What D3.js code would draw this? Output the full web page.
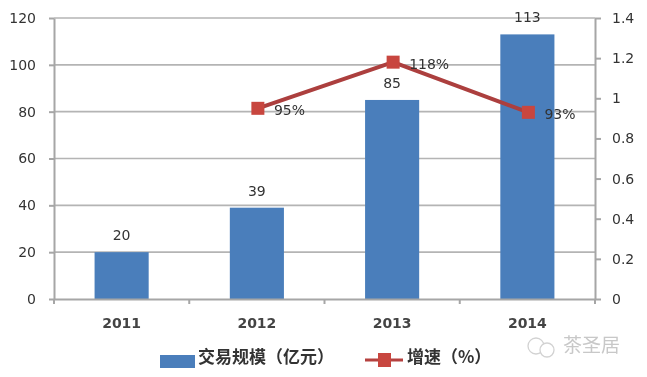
<!DOCTYPE html>
<html>
  <head>
    <meta charset="utf-8" />
    <title>交易规模与增速</title>
    <style>
      html, body { margin: 0; padding: 0; background: #fff; }
      svg { display: block; filter: blur(0.4px); }
      text { font-family: "DejaVu Sans", sans-serif; fill: #333; }
      .cn { font-family: "Noto Sans CJK SC", sans-serif; }
      .axis path, .axis line { stroke: #a6a6a6; stroke-width: 2; }
    </style>
  </head>
  <body>
    <div id="chart"></div>
    <script src="https://d3js.org/d3.v7.min.js"></script>
    <script>
      const years = ['2011', '2012', '2013', '2014'];
      const volume = [20, 39, 85, 113];
      const growthYears = ['2012', '2013', '2014'];
      const growth = [0.95, 1.18, 0.93];
      const growthLabels = ['95%', '118%', '93%'];
      const leftTicks = [0, 20, 40, 60, 80, 100, 120];
      const rightTicks = [0, 0.2, 0.4, 0.6, 0.8, 1, 1.2, 1.4];

      const width = 647;
      const height = 377;
      const plot = { left: 54, right: 595, top: 18, bottom: 299 };

      const svg = d3.select('#chart').append('svg')
        .attr('width', width)
        .attr('height', height);

      const xOuter = d3.scaleBand().domain(years).range([plot.left, plot.right]);
      const barWidth = xOuter.bandwidth() * 0.4;
      const y = d3.scaleLinear().domain([0, 120]).range([plot.bottom, plot.top]);
      const yRight = d3.scaleLinear().domain([0, 1.4]).range([plot.bottom, plot.top]);
      const cx = (d) => xOuter(d) + xOuter.bandwidth() / 2;

      // gridlines
      svg.append('g')
        .selectAll('line')
        .data(leftTicks.slice(1))
        .enter()
        .append('line')
        .attr('x1', plot.left)
        .attr('x2', plot.right)
        .attr('y1', (d) => y(d))
        .attr('y2', (d) => y(d))
        .attr('stroke', '#b4b4b4')
        .attr('stroke-width', 1.6);

      // bars
      svg.append('g')
        .selectAll('rect')
        .data(years)
        .enter()
        .append('rect')
        .attr('x', (d) => cx(d) - barWidth / 2)
        .attr('y', (d, i) => y(volume[i]))
        .attr('width', barWidth)
        .attr('height', (d, i) => y(0) - y(volume[i]))
        .attr('fill', '#4a7ebb');

      // axes
      const leftAxis = svg.append('g')
        .attr('class', 'axis')
        .attr('transform', `translate(${plot.left},0)`)
        .call(d3.axisLeft(y).tickValues(leftTicks).tickSize(5).tickPadding(13).tickSizeOuter(0));
      leftAxis.selectAll('text').style('font-size', '14px');

      const rightAxis = svg.append('g')
        .attr('class', 'axis')
        .attr('transform', `translate(${plot.right},0)`)
        .call(d3.axisRight(yRight).tickValues(rightTicks).tickFormat(d3.format('~g')).tickSize(6).tickPadding(11).tickSizeOuter(0));
      rightAxis.selectAll('text').style('font-size', '14px');

      const bottomAxis = svg.append('g')
        .attr('class', 'axis')
        .attr('transform', `translate(0,${plot.bottom})`)
        .call(d3.axisBottom(xOuter).tickSize(0).tickPadding(19));
      bottomAxis.selectAll('text').style('font-size', '14px').style('font-weight', 'bold').style('fill', '#444');

      // tick marks between categories on the bottom axis
      svg.append('g')
        .selectAll('line')
        .data(years.concat(['end']))
        .enter()
        .append('line')
        .attr('x1', (d, i) => plot.left + i * xOuter.step())
        .attr('x2', (d, i) => plot.left + i * xOuter.step())
        .attr('y1', plot.bottom)
        .attr('y2', plot.bottom + 5)
        .attr('stroke', '#a6a6a6')
        .attr('stroke-width', 2);

      // bar value labels
      svg.append('g')
        .selectAll('text')
        .data(years)
        .enter()
        .append('text')
        .attr('x', (d) => cx(d))
        .attr('y', (d, i) => y(volume[i]) - 12)
        .attr('text-anchor', 'middle')
        .style('font-size', '14px')
        .text((d, i) => volume[i]);

      // growth line
      const line = d3.line()
        .x((d) => cx(d) + 1)
        .y((d, i) => yRight(growth[i]));

      svg.append('path')
        .datum(growthYears)
        .attr('d', line)
        .attr('fill', 'none')
        .attr('stroke', '#ac3f3e')
        .attr('stroke-width', 4);

      svg.append('g')
        .selectAll('rect')
        .data(growthYears)
        .enter()
        .append('rect')
        .attr('x', (d) => cx(d) + 1 - 6.5)
        .attr('y', (d, i) => yRight(growth[i]) - 6.5)
        .attr('width', 13)
        .attr('height', 13)
        .attr('fill', '#c8463f');

      svg.append('g')
        .selectAll('text')
        .data(growthYears)
        .enter()
        .append('text')
        .attr('x', (d) => cx(d) + 17)
        .attr('y', (d, i) => yRight(growth[i]) + 7)
        .style('font-size', '14px')
        .text((d, i) => growthLabels[i]);

      // legend
      const legend = svg.append('g');
      legend.append('rect')
        .attr('x', 160).attr('y', 355).attr('width', 35).attr('height', 13)
        .attr('fill', '#4a7ebb');
      legend.append('text')
        .attr('class', 'cn')
        .attr('x', 198).attr('y', 363)
        .style('font-size', '17px').style('font-weight', 'bold')
        .text('交易规模（亿元）');
      legend.append('line')
        .attr('x1', 365).attr('x2', 403).attr('y1', 360).attr('y2', 360)
        .attr('stroke', '#b5413f').attr('stroke-width', 3);
      legend.append('rect')
        .attr('x', 378).attr('y', 353).attr('width', 13).attr('height', 14)
        .attr('fill', '#c8463f');
      legend.append('text')
        .attr('class', 'cn')
        .attr('x', 407).attr('y', 363)
        .style('font-size', '17px').style('font-weight', 'bold')
        .text('增速（%）');

      // watermark
      const mark = svg.append('g').attr('fill', 'none').attr('stroke', '#d2d2d2').attr('stroke-width', 1.3);
      mark.append('circle').attr('cx', 536).attr('cy', 346).attr('r', 8);
      mark.append('circle').attr('cx', 547).attr('cy', 350).attr('r', 7).attr('fill', '#fff');
      svg.append('text')
        .attr('class', 'cn')
        .attr('x', 563).attr('y', 352)
        .style('font-size', '19px')
        .style('fill', '#c8c8c8')
        .text('茶圣居');
    </script>
  </body>
</html>
